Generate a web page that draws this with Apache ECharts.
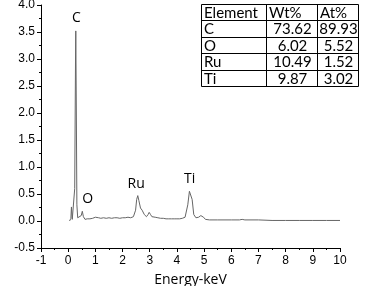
<!DOCTYPE html>
<html>
<head>
<meta charset="utf-8">
<script src="https://cdn.jsdelivr.net/npm/echarts@6/dist/echarts.min.js"></script>
<style>
  html, body { margin: 0; padding: 0; background: #fff; }
  #chart { width: 370px; height: 286px; }
</style>
</head>
<body>
<div id="chart"></div>
<script>
// EDS spectrum: [energy keV, KCent]
const spectrum = [
  [0.05, 0.0], [0.1, 0.05], [0.12, 0.26], [0.15, 0.03], [0.2, 0.05], [0.24, 0.6],
  [0.27, 3.0], [0.28, 3.52], [0.3, 2.0], [0.32, 0.3], [0.35, 0.06], [0.42, 0.04],
  [0.48, 0.1], [0.52, 0.18], [0.56, 0.08], [0.62, 0.03], [0.7, 0.04], [0.8, 0.04],
  [0.9, 0.05], [1.0, 0.07], [1.05, 0.09], [1.12, 0.06], [1.2, 0.05], [1.3, 0.06],
  [1.4, 0.05], [1.5, 0.06], [1.6, 0.05], [1.7, 0.06], [1.8, 0.06], [1.9, 0.05],
  [2.0, 0.06], [2.1, 0.06], [2.2, 0.07], [2.3, 0.06], [2.4, 0.08], [2.48, 0.2],
  [2.52, 0.4], [2.56, 0.47], [2.6, 0.38], [2.66, 0.24], [2.72, 0.2], [2.8, 0.12],
  [2.88, 0.08], [2.94, 0.12], [2.98, 0.16], [3.03, 0.12], [3.08, 0.08], [3.15, 0.09],
  [3.2, 0.07], [3.3, 0.06], [3.4, 0.05], [3.5, 0.05], [3.6, 0.04], [3.7, 0.04],
  [3.8, 0.04], [3.9, 0.04], [4.0, 0.04], [4.1, 0.04], [4.2, 0.05], [4.3, 0.07],
  [4.4, 0.3], [4.46, 0.55], [4.51, 0.58], [4.56, 0.4], [4.62, 0.12], [4.7, 0.06],
  [4.8, 0.07], [4.88, 0.1], [4.93, 0.1], [4.98, 0.07], [5.05, 0.03], [5.2, 0.02],
  [5.5, 0.02], [6.0, 0.02], [6.3, 0.02], [6.4, 0.03], [6.5, 0.02], [7.0, 0.02],
  [7.5, 0.01], [8.0, 0.01], [8.5, 0.01], [9.0, 0.01], [9.5, 0.01], [10.0, 0.01]
]

// peak labels: [name, energy, height]
const peaks = [
  ['C', 0.3, 3.75],
  ['O', 0.72, 0.4],
  ['Ru', 2.5, 0.68],
  ['Ti', 4.47, 0.78]
]

// composition table
const tableHeader = ['Element', 'Wt%', 'At%']
const elements = ['C', 'O', 'Ru', 'Ti']
const wtPct = ['73.62', '6.02', '10.49', '9.87']
const atPct = ['89.93', '5.52', '1.52', '3.02']

const tableCols = [201, 266, 317, 358]
const tableTop = 4
const rowH = 16.4

function buildTable() {
  const rows = [tableHeader].concat(elements.map((e, i) => [e, wtPct[i], atPct[i]]))
  const children = []
  const w = tableCols[3] - tableCols[0]
  const h = rowH * rows.length
  children.push({
    type: 'rect',
    shape: { x: tableCols[0] + 0.5, y: tableTop + 0.5, width: w, height: h },
    style: { fill: '#fff', stroke: '#000', lineWidth: 1 },
  })
  for (let r = 1; r < rows.length; r++) {
    const y = Math.round(tableTop + r * rowH) + 0.5
    children.push({
      type: 'line',
      shape: { x1: tableCols[0], y1: y, x2: tableCols[3], y2: y },
      style: { stroke: '#000', lineWidth: 1 },
    })
  }
  for (let c = 1; c < 3; c++) {
    children.push({
      type: 'line',
      shape: { x1: tableCols[c] + 0.5, y1: tableTop, x2: tableCols[c] + 0.5, y2: tableTop + h },
      style: { stroke: '#000', lineWidth: 1 },
    })
  }
  rows.forEach((row, r) => {
    row.forEach((txt, c) => {
      // header and element names sit left, numbers are centred
      const centred = r > 0 && c > 0
      children.push({
        type: 'text',
        style: {
          x: centred ? (tableCols[c] + tableCols[c + 1]) / 2 + 1 : tableCols[c] + 3,
          y: tableTop + r * rowH + rowH / 2 + 1,
          text: txt,
          fill: '#000',
          font: '15px Lato, "Open Sans", sans-serif',
          align: centred ? 'center' : 'left',
          verticalAlign: 'middle',
        },
      })
    })
  })
  return children
}

const chart = echarts.init(document.getElementById('chart'), null, { renderer: 'canvas' })

chart.setOption({
  animation: false,
  backgroundColor: '#fff',
  grid: { left: 41, right: 30, top: 5, bottom: 38, containLabel: false, outerBoundsMode: 'none' },
  xAxis: {
    type: 'value',
    min: -1,
    max: 10,
    interval: 1,
    name: 'Energy-keV',
    nameLocation: 'middle',
    nameGap: 25,
    nameTextStyle: { color: '#000', fontSize: 14, fontFamily: 'Open Sans' },
    axisLine: { show: true, onZero: false, lineStyle: { color: '#000', width: 1 } },
    axisTick: { show: true, length: 4, lineStyle: { color: '#000' } },
    minorTick: { show: true, splitNumber: 2, length: 2, lineStyle: { color: '#000' } },
    axisLabel: { color: '#000', fontSize: 12, fontFamily: 'Arial, Liberation Sans', margin: 7 },
    splitLine: { show: false },
  },
  yAxis: {
    type: 'value',
    min: -0.5,
    max: 4,
    interval: 0.5,
    name: 'KCent',
    nameLocation: 'middle',
    nameGap: 29,
    nameTextStyle: { color: '#000', fontSize: 14, fontFamily: 'Open Sans' },
    axisLine: { show: true, onZero: false, lineStyle: { color: '#000', width: 1 } },
    axisTick: { show: true, length: 4, lineStyle: { color: '#000' } },
    minorTick: { show: true, splitNumber: 2, length: 2, lineStyle: { color: '#000' } },
    axisLabel: {
      color: '#000',
      fontSize: 12,
      fontFamily: 'Arial, Liberation Sans',
      margin: 6,
      formatter: v => v.toFixed(1),
    },
    splitLine: { show: false },
  },
  series: [
    {
      type: 'line',
      data: spectrum,
      symbol: 'none',
      lineStyle: { color: '#666', width: 1 },
      markPoint: {
        symbol: 'circle',
        symbolSize: 0,
        label: {
          show: true,
          color: '#000',
          fontSize: 14,
          fontFamily: 'Open Sans',
          formatter: p => p.name,
        },
        data: peaks.map(p => ({ name: p[0], coord: [p[1], p[2]] })),
      },
    },
  ],
  graphic: buildTable(),
})
</script>
</body>
</html>
